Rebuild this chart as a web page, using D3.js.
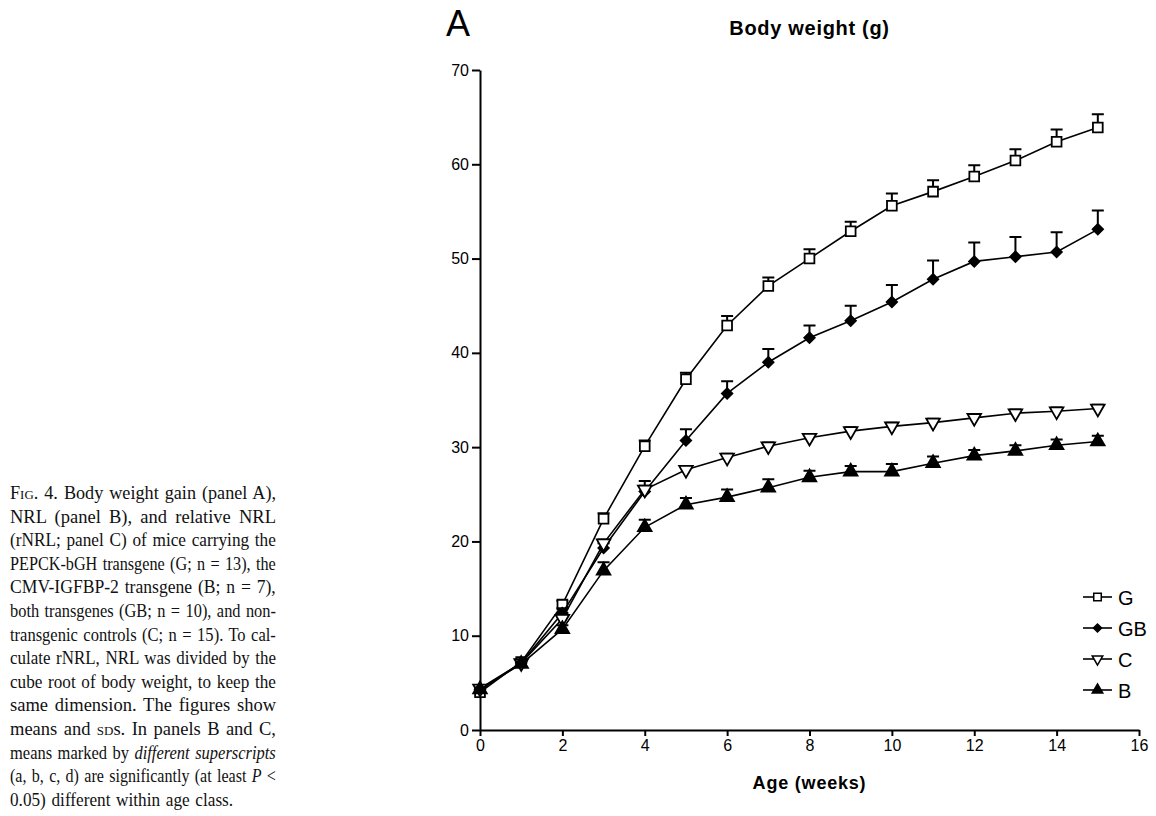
<!DOCTYPE html>
<html>
<head>
<meta charset="utf-8">
<script src="https://cdn.jsdelivr.net/npm/d3@7"></script>
<style>
  html, body { margin: 0; padding: 0; background: #fff; }
  svg { display: block; }
  .axis path, .axis line { stroke: #000; stroke-width: 2; }
  .axis text { font-family: Arial, "Liberation Sans", sans-serif; font-size: 16px; fill: #000; }
</style>
</head>
<body>
<div id="chart"></div>
<script>
// age in weeks
const weeks = [0, 1, 2, 3, 4, 5, 6, 7, 8, 9, 10, 11, 12, 13, 14, 15];

// body weight means (g) and SDs
const gMean  = [4.0, 7.2, 13.3, 22.4, 30.1, 37.2, 42.9, 47.1, 50.0, 52.9, 55.6, 57.1, 58.7, 60.4, 62.4, 63.9];
const gSd    = [0.3, 0.3, 0.4, 0.6, 0.6, 0.7, 1.0, 0.9, 1.0, 1.0, 1.3, 1.2, 1.2, 1.2, 1.3, 1.4];
const gbMean = [4.3, 7.1, 12.4, 19.3, 25.3, 30.7, 35.7, 39.0, 41.6, 43.4, 45.4, 47.8, 49.7, 50.2, 50.7, 53.1];
const gbSd   = [0.3, 0.3, 0.5, 0.5, 1.1, 1.2, 1.3, 1.4, 1.3, 1.6, 1.8, 2.0, 2.0, 2.1, 2.1, 2.0];
const cMean  = [4.4, 7.1, 11.8, 19.8, 25.5, 27.6, 28.9, 30.1, 31.0, 31.7, 32.2, 32.6, 33.1, 33.6, 33.8, 34.1];
const cSd    = [0.2, 0.2, 0.3, 0.4, 0.4, 0.4, 0.4, 0.4, 0.4, 0.4, 0.4, 0.4, 0.4, 0.4, 0.4, 0.4];
const bMean  = [4.3, 7.0, 10.7, 16.9, 21.5, 23.9, 24.7, 25.7, 26.8, 27.4, 27.4, 28.3, 29.1, 29.6, 30.2, 30.6];
const bSd    = [0.2, 0.3, 0.4, 0.9, 0.8, 0.7, 0.8, 0.9, 0.7, 0.6, 0.8, 0.7, 0.6, 0.6, 0.6, 0.6];

const seriesNames = ["G", "GB", "C", "B"];
const xTicks = [0, 2, 4, 6, 8, 10, 12, 14, 16];
const yTicks = [0, 10, 20, 30, 40, 50, 60, 70];

// caption lines; [text, style] pieces, style: "" | "sc" small caps | "i" italic
const captionLines = [
    [["F", ""], ["ig", "sc"], [". 4. Body weight gain (panel A),", ""]],
    [["NRL (panel B), and relative NRL", ""]],
    [["(rNRL; panel C) of mice carrying the", ""]],
    [["PEPCK-bGH transgene (G; n = 13), the", ""]],
    [["CMV-IGFBP-2 transgene (B; n = 7),", ""]],
    [["both transgenes (GB; n = 10), and non-", ""]],
    [["transgenic controls (C; n = 15). To cal-", ""]],
    [["culate rNRL, NRL was divided by the", ""]],
    [["cube root of body weight, to keep the", ""]],
    [["same dimension. The figures show", ""]],
    [["means and ", ""], ["sd", "sc"], ["s. In panels B and C,", ""]],
    [["means marked by ", ""], ["different superscripts", "i"]],
    [["(a, b, c, d) are significantly (at least ", ""], ["P", "i"], [" <", ""]],
    [["0.05) different within age class.", ""]]
];

const W = 1156, H = 816;
const svg = d3.select("#chart").append("svg").attr("width", W).attr("height", H);

const x = d3.scaleLinear().domain([0, 16]).range([480, 1139]);
const y = d3.scaleLinear().domain([0, 70]).range([730, 70]);

// axes
svg.append("g").attr("class", "axis").attr("transform", "translate(480,0)")
    .call(d3.axisLeft(y).tickValues(yTicks).tickSize(8).tickSizeOuter(0).tickPadding(3));
svg.append("g").attr("class", "axis").attr("transform", "translate(0,730)")
    .call(d3.axisBottom(x).tickValues(xTicks).tickSize(6).tickSizeOuter(0).tickPadding(4));

// panel letter, title, x label
const sans = "Arial, 'Liberation Sans', sans-serif";
svg.append("text").attr("x", 446).attr("y", 36).attr("font-family", sans)
    .attr("font-size", 36).text("A");
svg.append("text").attr("x", 809.5).attr("y", 35).attr("text-anchor", "middle")
    .attr("font-family", sans).attr("font-size", 20).attr("font-weight", "bold")
    .attr("letter-spacing", 0.7).text("Body weight (g)");
svg.append("text").attr("x", 809.5).attr("y", 789).attr("text-anchor", "middle")
    .attr("font-family", sans).attr("font-size", 18).attr("font-weight", "bold")
    .attr("letter-spacing", 0.8).text("Age (weeks)");

const series = [
    { name: "G",  mean: gMean,  sd: gSd,  sym: d3.symbolSquare,   size: 95, rot: 0,   fill: "#fff" },
    { name: "GB", mean: gbMean, sd: gbSd, sym: d3.symbolSquare,   size: 55, rot: 45,  fill: "#000" },
    { name: "C",  mean: cMean,  sd: cSd,  sym: d3.symbolTriangle, size: 80, rot: 180, fill: "#fff" },
    { name: "B",  mean: bMean,  sd: bSd,  sym: d3.symbolTriangle, size: 80, rot: 0,   fill: "#000" }
];

const line = d3.line().x((d, i) => x(weeks[i])).y(d => y(d));

series.forEach(s => {
    const g = svg.append("g");
    g.append("path").attr("d", line(s.mean)).attr("fill", "none")
        .attr("stroke", "#000").attr("stroke-width", 1.6);
    const pts = s.mean.map((m, i) => ({ w: weeks[i], m, sd: s.sd[i] }));
    // upper error bars
    g.selectAll(".eb").data(pts).enter().append("path")
        .attr("d", d => `M${x(d.w)},${y(d.m)}V${y(d.m + d.sd)}M${x(d.w) - 6},${y(d.m + d.sd)}H${x(d.w) + 6}`)
        .attr("stroke", "#000").attr("stroke-width", 2).attr("fill", "none");
    g.selectAll(".pt").data(pts).enter().append("path")
        .attr("d", d3.symbol().type(s.sym).size(s.size))
        .attr("transform", d => `translate(${x(d.w)},${y(d.m)}) rotate(${s.rot})`)
        .attr("fill", s.fill).attr("stroke", "#000").attr("stroke-width", 1.8);
});

// legend
const leg = svg.append("g");
series.forEach((s, i) => {
    const ly = 597 + i * 31;
    leg.append("line").attr("x1", 1083).attr("x2", 1112).attr("y1", ly).attr("y2", ly)
        .attr("stroke", "#000").attr("stroke-width", 1.6);
    leg.append("path").attr("d", d3.symbol().type(s.sym).size(s.size * 0.6))
        .attr("transform", `translate(1097.5,${ly}) rotate(${s.rot})`)
        .attr("fill", s.fill).attr("stroke", "#000").attr("stroke-width", 1.5);
    leg.append("text").attr("x", 1118).attr("y", ly + 7.5).attr("font-family", sans)
        .attr("font-size", 20).text(seriesNames[i]);
});

// caption, justified: widen word gaps, or squeeze the line horizontally if too long
const capLeft = 10, capWidth = 266, wordGap = 1.5;
captionLines.forEach((parts, i) => {
    const t = svg.append("text").attr("x", 0).attr("y", 0)
        .attr("font-family", "'Liberation Serif', 'Times New Roman', serif")
        .attr("font-size", 18.5).attr("fill", "#111").attr("word-spacing", wordGap);
    parts.forEach(([txt, st]) => {
        const ts = t.append("tspan").text(txt);
        if (st === "sc") ts.style("font-variant", "small-caps");
        if (st === "i") ts.attr("font-style", "italic");
    });
    const last = i === captionLines.length - 1;
    const gaps = parts.map(p => p[0]).join("").split(" ").length - 1;
    const natural = t.node().getComputedTextLength();
    let sx = 1;
    if (natural > capWidth) sx = capWidth / natural;
    else if (last) sx = 0.93;
    else if (gaps > 0) t.attr("word-spacing", wordGap + (capWidth - natural) / gaps);
    t.attr("transform", `translate(${capLeft},${499 + i * 23.6}) scale(${sx},1)`);
});
</script>
</body>
</html>
